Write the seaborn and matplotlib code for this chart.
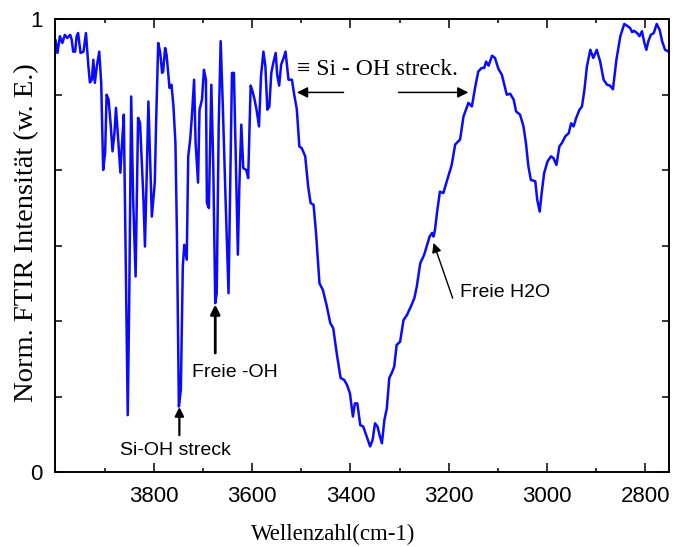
import numpy as np
import pandas as pd
import matplotlib
matplotlib.use("Agg")
import matplotlib.pyplot as plt
import seaborn as sns
from matplotlib.ticker import MultipleLocator

wavenumber = [4000, 3996, 3991, 3986, 3981, 3976, 3970, 3967, 3964, 3960, 3957, 3954, 3949, 3943, 3938,
              3933, 3930, 3926, 3923, 3920, 3916, 3911, 3907, 3903, 3899, 3896, 3892, 3888, 3884, 3880,
              3877, 3872, 3868, 3865, 3861, 3857, 3853, 3850, 3846, 3842, 3837, 3832, 3828, 3821, 3818,
              3814, 3811, 3808, 3804, 3798, 3795, 3791, 3787, 3783, 3781, 3777, 3774, 3768, 3764, 3760,
              3756, 3753, 3749, 3745, 3741, 3738, 3733, 3730, 3726, 3723, 3718, 3715, 3710, 3707, 3702,
              3698, 3694, 3692, 3688, 3683, 3679, 3675, 3672, 3668, 3664, 3660, 3654, 3648, 3643, 3641,
              3637, 3633, 3629, 3626, 3622, 3618, 3612, 3608, 3603, 3599, 3595, 3591, 3586, 3582, 3577,
              3573, 3569, 3565, 3561, 3557, 3552, 3549, 3545, 3541, 3536, 3532, 3526, 3519, 3515, 3509,
              3504, 3499, 3492, 3486, 3481, 3475, 3470, 3463, 3456, 3448, 3441, 3435, 3428, 3420, 3413,
              3407, 3401, 3395, 3391, 3386, 3380, 3374, 3367, 3360, 3355, 3350, 3345, 3340, 3336, 3331,
              3326, 3321, 3316, 3311, 3306, 3299, 3292, 3285, 3277, 3270, 3265, 3258, 3250, 3245, 3239,
              3234, 3231, 3228, 3224, 3218, 3211, 3204, 3194, 3187, 3177, 3170, 3160, 3153, 3146, 3140,
              3133, 3128, 3124, 3119, 3112, 3106, 3099, 3092, 3087, 3082, 3075, 3068, 3063, 3055, 3048,
              3043, 3038, 3033, 3024, 3020, 3015, 3011, 3006, 2999, 2992, 2987, 2981, 2975, 2970, 2963,
              2956, 2951, 2946, 2941, 2934, 2929, 2924, 2919, 2912, 2906, 2899, 2892, 2885, 2878, 2872,
              2866, 2859, 2851, 2843, 2836, 2831, 2827, 2823, 2817, 2812, 2807, 2802, 2798, 2794, 2789,
              2783, 2777, 2771, 2766, 2760, 2753, 2748]

intensity = [0.954, 0.925, 0.962, 0.947, 0.965, 0.958, 0.965, 0.954, 0.928, 0.928, 0.962, 0.969, 0.925, 0.928, 0.969,
             0.895, 0.860, 0.866, 0.910, 0.859, 0.895, 0.928, 0.859, 0.667, 0.705, 0.833, 0.822, 0.771, 0.708, 0.749,
             0.804, 0.727, 0.661, 0.719, 0.789, 0.454, 0.126, 0.380, 0.829, 0.601, 0.432, 0.782, 0.771, 0.601, 0.498,
             0.675, 0.818, 0.711, 0.564, 0.639, 0.785, 0.947, 0.926, 0.881, 0.884, 0.936, 0.921, 0.848, 0.855, 0.807,
             0.726, 0.528, 0.145, 0.182, 0.454, 0.502, 0.469, 0.697, 0.734, 0.778, 0.866, 0.727, 0.639, 0.800, 0.822,
             0.888, 0.866, 0.594, 0.583, 0.855, 0.675, 0.373, 0.395, 0.763, 0.951, 0.822, 0.601, 0.395, 0.734, 0.881,
             0.881, 0.675, 0.480, 0.630, 0.767, 0.671, 0.667, 0.649, 0.853, 0.840, 0.822, 0.800, 0.763, 0.873, 0.928,
             0.895, 0.800, 0.807, 0.881, 0.903, 0.925, 0.877, 0.853, 0.899, 0.914, 0.928, 0.866, 0.866, 0.837, 0.800,
             0.719, 0.715, 0.697, 0.630, 0.594, 0.590, 0.528, 0.417, 0.402, 0.366, 0.329, 0.318, 0.263, 0.208, 0.204,
             0.193, 0.174, 0.123, 0.152, 0.152, 0.104, 0.101, 0.079, 0.057, 0.071, 0.108, 0.101, 0.079, 0.064, 0.115,
             0.141, 0.208, 0.219, 0.233, 0.281, 0.288, 0.336, 0.347, 0.366, 0.384, 0.410, 0.461, 0.480, 0.498, 0.520,
             0.528, 0.520, 0.535, 0.572, 0.619, 0.616, 0.642, 0.678, 0.723, 0.734, 0.785, 0.815, 0.807, 0.851, 0.884,
             0.892, 0.892, 0.906, 0.897, 0.919, 0.914, 0.890, 0.877, 0.855, 0.833, 0.835, 0.822, 0.796, 0.789, 0.763,
             0.726, 0.675, 0.645, 0.642, 0.601, 0.575, 0.616, 0.660, 0.686, 0.697, 0.693, 0.678, 0.719, 0.726, 0.741,
             0.748, 0.770, 0.763, 0.781, 0.800, 0.807, 0.844, 0.895, 0.932, 0.914, 0.932, 0.906, 0.866, 0.855, 0.853,
             0.845, 0.910, 0.962, 0.989, 0.984, 0.980, 0.971, 0.974, 0.969, 0.962, 0.973, 0.947, 0.932, 0.951, 0.965,
             0.969, 0.989, 0.976, 0.951, 0.932, 0.928, 0.932]

x_major_ticks = [3800, 3600, 3400, 3200, 3000, 2800]
x_major_labels = ["3800", "3600", "3400", "3200", "3000", "2800"]
y_tick_labels = ["0", "", "", "", "", "", "1"]

df = pd.DataFrame({"Wellenzahl": wavenumber, "Intensitaet": intensity})

sns.set_style("ticks")
plt.rcParams["font.family"] = ["Liberation Sans", "DejaVu Sans"]
plt.rcParams["text.color"] = "black"
plt.rcParams["axes.labelcolor"] = "black"
plt.rcParams["xtick.color"] = "black"
plt.rcParams["ytick.color"] = "black"

fig = plt.figure(figsize=(6.75, 5.47), dpi=100)
ax = fig.add_axes([0.0822, 0.1366, 0.9089, 0.8287])

sns.lineplot(data=df, x="Wellenzahl", y="Intensitaet", ax=ax, color="#0a0aff",
             linewidth=1.8, sort=False, estimator=None)

ax.set_xlim(4000, 2752)
ax.set_ylim(0, 1)

ax.set_xticks(x_major_ticks)
ax.set_xticklabels(x_major_labels)
ax.xaxis.set_minor_locator(MultipleLocator(100))
ax.set_yticks(np.arange(7) / 6)
ax.set_yticklabels(y_tick_labels)

ax.tick_params(axis="x", which="major", direction="in", length=6.5, width=1.1,
               top=True, labelsize=16, pad=10, colors="black")
ax.tick_params(axis="x", which="minor", direction="in", length=3.2, width=1.1, top=True,
               colors="black")
ax.tick_params(axis="y", which="major", direction="in", length=5, width=1.1,
               right=True, labelsize=16, pad=9, colors="black")

for s in ax.spines.values():
    s.set_linewidth(1.4)
    s.set_color("black")

serif = ["Liberation Serif", "DejaVu Serif"]
ax.set_xlabel("Wellenzahl(cm-1)", fontsize=16.5, family=serif, color="black")
ax.xaxis.set_label_coords(0.452, -0.113)
ax.set_ylabel("Norm. FTIR Intensität (w. E.)", fontsize=20.5, family=serif, color="black")
ax.yaxis.set_label_coords(-0.027, 0.529)

# Annotations
ax.text(3345, 0.888, "\u2261 Si - OH streck.", fontsize=17, family=serif,
        ha="center", va="center", color="black")
ax.annotate("", xy=(3509, 0.838), xytext=(3414, 0.838),
            arrowprops=dict(arrowstyle="-|>", color="black", lw=1.1,
                            mutation_scale=16, shrinkA=0, shrinkB=0))
ax.annotate("", xy=(3160, 0.838), xytext=(3302, 0.838),
            arrowprops=dict(arrowstyle="-|>", color="black", lw=1.1,
                            mutation_scale=16, shrinkA=0, shrinkB=0))

ax.text(3636, 0.221, "Freie -OH", fontsize=14, ha="center", va="center", color="black")
ax.annotate("", xy=(3675, 0.370), xytext=(3675, 0.263),
            arrowprops=dict(arrowstyle="-|>", color="black", lw=2.0,
                            mutation_scale=14, shrinkA=0, shrinkB=0))

ax.text(3755, 0.049, "Si-OH streck", fontsize=14, ha="center", va="center", color="black")
ax.annotate("", xy=(3748, 0.144), xytext=(3748, 0.082),
            arrowprops=dict(arrowstyle="-|>", color="black", lw=1.6,
                            mutation_scale=13, shrinkA=0, shrinkB=0))

ax.text(3177, 0.397, "Freie H2O", fontsize=14, ha="left", va="center", color="black")
ax.annotate("", xy=(3231, 0.506), xytext=(3192, 0.384),
            arrowprops=dict(arrowstyle="-|>", color="black", lw=1.0,
                            mutation_scale=14, shrinkA=0, shrinkB=0))

fig.savefig("out.png", dpi=100)
